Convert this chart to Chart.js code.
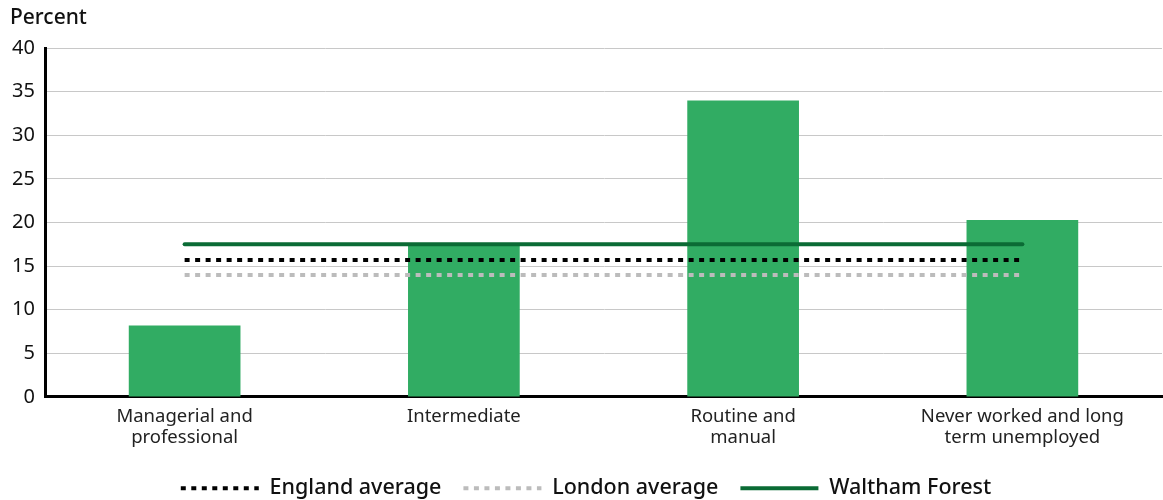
<!DOCTYPE html>
<html>
<head>
<meta charset="utf-8">
<script src="https://cdn.jsdelivr.net/npm/chart.js@4.4.1/dist/chart.umd.min.js"></script>
<style>
  html, body { margin: 0; padding: 0; background: #fff; }
  #wrap { width: 1163px; height: 500px; position: relative; }
</style>
</head>
<body>
<div id="wrap"><canvas id="grafico"></canvas></div>
<script>
const categorias = [
  ['Managerial and', 'professional'],
  'Intermediate',
  ['Routine and', 'manual'],
  ['Never worked and long', 'term unemployed']
];
const valores = [8.2, 17.4, 34.0, 20.3];
const mediaInglaterra = 15.7;
const mediaLondres = 14.0;
const walthamForest = 17.5;
const ticksY = [0, 5, 10, 15, 20, 25, 30, 35, 40];

const FUENTE = "'Noto Sans', sans-serif";

const ctx = document.getElementById('grafico').getContext('2d');
const grafico = new Chart(ctx, {
  type: 'bar',
  data: {
    labels: categorias,
    datasets: [
      {
        type: 'line',
        label: 'England average',
        data: categorias.map(() => mediaInglaterra),
        borderColor: '#000000',
        borderWidth: 4,
        borderDash: [5, 5.5],
        pointRadius: 0,
        fill: false
      },
      {
        type: 'line',
        label: 'London average',
        data: categorias.map(() => mediaLondres),
        borderColor: '#bcbcbc',
        borderWidth: 4,
        borderDash: [5, 5.5],
        pointRadius: 0,
        fill: false
      },
      {
        type: 'line',
        label: 'Waltham Forest',
        data: categorias.map(() => walthamForest),
        borderColor: '#0b6b35',
        borderWidth: 4,
        borderCapStyle: 'round',
        pointRadius: 0,
        fill: false
      },
      {
        label: 'Valores',
        data: valores,
        backgroundColor: '#31ac63',
        barPercentage: 0.8,
        categoryPercentage: 0.5
      }
    ]
  },
  options: {
    responsive: true,
    maintainAspectRatio: false,
    animation: false,
    layout: { padding: { left: 10, right: 1, top: 0, bottom: -9 } },
    plugins: {
      title: {
        display: true,
        text: 'Percent',
        align: 'start',
        color: '#111',
        font: { family: FUENTE, size: 21, weight: '500' },
        padding: { top: 5, bottom: 18 }
      },
      legend: {
        position: 'bottom',
        labels: {
          filter: item => item.text !== 'Valores',
          generateLabels: chart => {
            const base = Chart.defaults.plugins.legend.labels.generateLabels(chart);
            base.forEach(item => {
              const ds = chart.data.datasets[item.datasetIndex];
              item.lineDash = ds.borderDash || [];
              item.lineWidth = ds.borderWidth;
              item.strokeStyle = ds.borderColor;
            });
            return base;
          },
          usePointStyle: true,
          pointStyle: 'line',
          pointStyleWidth: 78,
          color: '#111',
          padding: 22,
          font: { family: FUENTE, size: 21.5, weight: '500' }
        }
      },
      tooltip: { enabled: false }
    },
    scales: {
      x: {
        afterFit: scale => { scale.height -= 2; },
        grid: { display: false, drawTicks: false },
        border: { color: '#000', width: 3 },
        ticks: {
          color: '#222',
          padding: 9,
          maxRotation: 0,
          autoSkip: false,
          font: { family: FUENTE, size: 18.5, lineHeight: 1.15 }
        }
      },
      y: {
        min: 0,
        max: 40,
        afterBuildTicks: scale => { scale.ticks = ticksY.map(v => ({ value: v })); },
        afterFit: scale => { scale.width = 35; },
        grid: { color: '#c8c8c8', lineWidth: 1, drawTicks: false },
        border: { color: '#000', width: 3 },
        ticks: {
          color: '#111',
          padding: 10,
          font: { family: FUENTE, size: 20 }
        }
      }
    }
  }
});
</script>
</body>
</html>
